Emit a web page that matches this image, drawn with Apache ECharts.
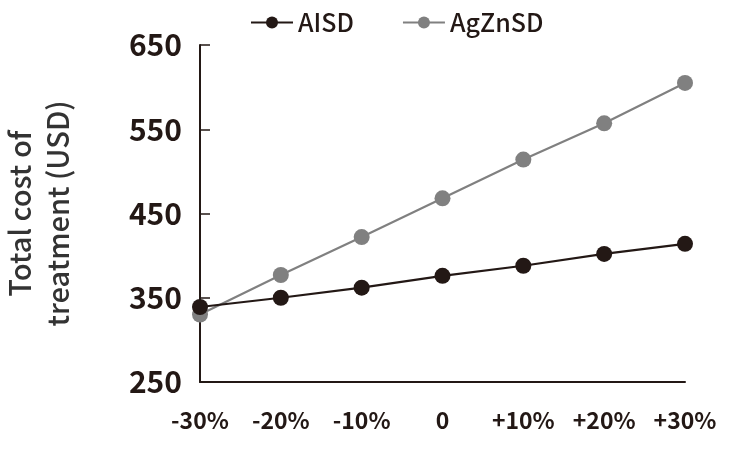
<!DOCTYPE html>
<html>
<head>
<meta charset="utf-8">
<script src="https://cdn.jsdelivr.net/npm/echarts@6/dist/echarts.min.js"></script>
<style>html,body{margin:0;padding:0;background:#fff}#c{width:741px;height:449px}</style>
</head>
<body>
<div id="c"></div>
<script>
var categories = ['-30%', '-20%', '-10%', '0', '+10%', '+20%', '+30%'];
var aisd = [339, 350, 362, 376, 388, 402, 414];
var agznsd = [330, 377, 422, 468, 514, 557, 605];
var yTicks = [250, 350, 450, 550, 650];

var FONT = '"Noto Sans CJK JP", "Noto Sans", sans-serif';
var chart = echarts.init(document.getElementById('c'), null, {renderer: 'canvas'});
chart.setOption({
  animation: false,
  backgroundColor: '#fff',
  legend: {
    top: 5,
    left: 245,
    itemWidth: 42,
    itemHeight: 15,
    itemGap: 48,
    textStyle: {fontFamily: FONT, fontSize: 25, color: '#231815', fontWeight: 500},
    data: ['AISD', 'AgZnSD']
  },
  grid: {left: 200, right: 56, top: 45, bottom: 67, containLabel: false, outerBoundsMode: 'none'},
  xAxis: {
    type: 'category',
    data: categories,
    boundaryGap: false,
    axisLine: {lineStyle: {color: '#231815', width: 2}},
    axisTick: {show: false},
    axisLabel: {interval: 0, hideOverlap: false, fontFamily: FONT, fontSize: 23, color: '#231815', margin: 27, fontWeight: 'bold'},
    splitLine: {show: false}
  },
  yAxis: {
    type: 'value',
    min: yTicks[0],
    max: yTicks[yTicks.length - 1],
    interval: 100,
    name: 'Total cost of\ntreatment (USD)',
    nameLocation: 'middle',
    nameGap: 123,
    nameTextStyle: {fontFamily: FONT, fontSize: 29, color: '#333333', lineHeight: 38, fontWeight: 500},
    axisLine: {show: true, lineStyle: {color: '#231815', width: 2}},
    axisTick: {show: true, inside: true, length: 10, lineStyle: {color: '#231815', width: 1.5}},
    axisLabel: {fontFamily: FONT, fontSize: 30, color: '#231815', margin: 18, fontWeight: 'bold'},
    splitLine: {show: false}
  },
  series: [
    {
      name: 'AISD', type: 'line', data: aisd, z: 5,
      symbol: 'circle', symbolSize: 16,
      itemStyle: {color: '#231815'},
      lineStyle: {color: '#231815', width: 2.2}
    },
    {
      name: 'AgZnSD', type: 'line', data: agznsd, z: 3,
      symbol: 'circle', symbolSize: 16,
      itemStyle: {color: '#808080'},
      lineStyle: {color: '#808080', width: 2.2}
    }
  ]
});
</script>
</body>
</html>
